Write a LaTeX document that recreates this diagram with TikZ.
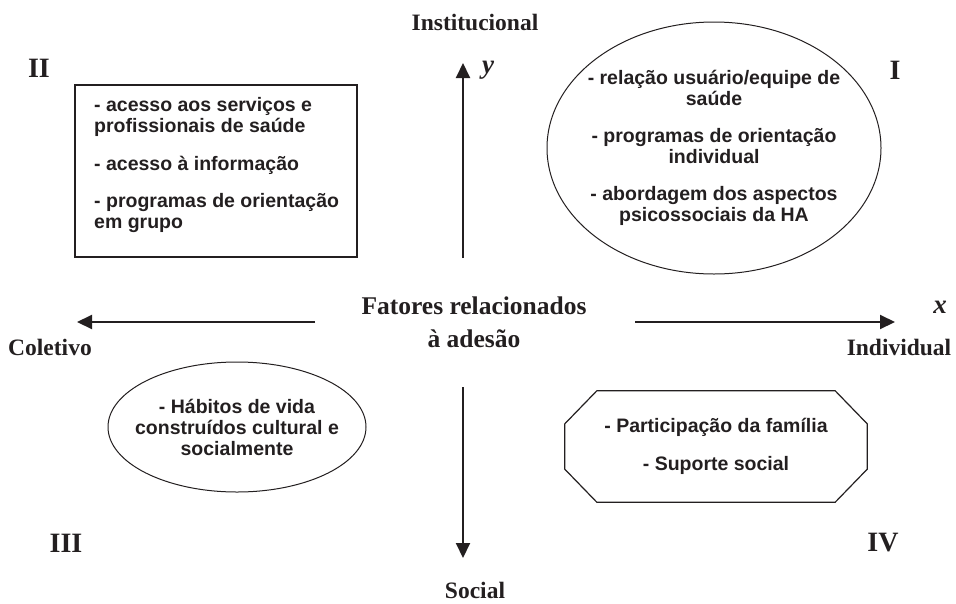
\documentclass[tikz,border=0pt]{standalone}
\usepackage{fontspec}
\setmainfont{Liberation Serif}
\setsansfont{Liberation Sans}
\usetikzlibrary{arrows.meta,positioning,shapes.geometric}
\definecolor{ink}{RGB}{35,31,32}

\begin{document}
\begin{tikzpicture}[x=1pt,y=-1pt,
    every node/.style={inner sep=0pt,text=ink},
    axis/.style={draw=ink,line width=2pt,-{Triangle[length=15pt,width=14pt]}},
    pole/.style={font=\fontsize{23.5}{33}\selectfont\bfseries},
    numeral/.style={font=\fontsize{28}{28}\selectfont\bfseries},
    var/.style={font=\fontsize{27}{27}\selectfont\bfseries\itshape},
    item/.style={font=\fontsize{19.5}{21}\selectfont\sffamily\bfseries},
    quad/.style={draw=ink,line width=1.2pt}]
    \useasboundingbox (0,0) rectangle (956,603);
    \node[pole] (inst) at (475,22) {Institucional};
    \node[pole] (soc) at (475,590) {Social};
    \node[pole] (col) at (50,347) {Coletivo};
    \node[pole] (ind) at (899,347) {Individual};
    \node[pole,font=\fontsize{25.5}{33}\selectfont\bfseries,align=center] (core) at (474,322) {Fatores relacionados\\à adesão};
    \node[var] (ylab) at (488,70) {y};
    \node[var] (xlab) at (940,307) {x};
    \node[numeral] (qII) at (39,68) {II};
    \node[numeral] (qI) at (895,70) {I};
    \node[numeral] (qIII) at (66,543) {III};
    \node[numeral] (qIV) at (883,543) {IV};
    \coordinate (up0) at (463,258);
    \coordinate (up1) at (463,63);
    \coordinate (dn0) at (463,387);
    \coordinate (dn1) at (463,558);
    \coordinate (lf0) at (315,322);
    \coordinate (lf1) at (77,322);
    \coordinate (rt0) at (635,322);
    \coordinate (rt1) at (895,322);
    \draw[axis] (up0) -- (up1);
    \draw[axis] (dn0) -- (dn1);
    \draw[axis] (lf0) -- (lf1);
    \draw[axis] (rt0) -- (rt1);
    \node[quad,rectangle,minimum width=282pt,minimum height=172pt] (boxII) at (216,171) {};
    \node[item,align=left,anchor=west] (txtII) at (94,165) {- acesso aos serviços e\\profissionais de saúde\\[16.5pt]- acesso à informação\\[16.5pt]- programas de orientação\\em grupo};
    \node[quad,ellipse,line width=1pt,minimum width=334pt,minimum height=252pt] (ellI) at (714,148) {};
    \node[item,align=center] (txtI) at (ellI.center) {- relação usuário/equipe de\\saúde\\[16pt]- programas de orientação\\individual\\[16pt]- abordagem dos aspectos\\psicossociais da HA};
    \node[quad,ellipse,line width=1pt,minimum width=258pt,minimum height=130pt] (ellIII) at (237,427) {};
    \node[item,align=center] (txtIII) at (ellIII.center) {- Hábitos de vida\\construídos cultural e\\socialmente};
    \node[minimum width=302pt,minimum height=111pt] (octIV) at (716,446.5) {};
    \draw[quad] ([xshift=32pt]octIV.north west) -- ([xshift=-32pt]octIV.north east) -- ([yshift=-33pt]octIV.north east) -- ([yshift=33pt]octIV.south east) -- ([xshift=-32pt]octIV.south east) -- ([xshift=32pt]octIV.south west) -- ([yshift=33pt]octIV.south west) -- ([yshift=-33pt]octIV.north west) -- cycle;
    \node[item,align=center] (txtIV) at (octIV.center) {- Participação da família\\[17pt]- Suporte social};
\end{tikzpicture}
\end{document}
